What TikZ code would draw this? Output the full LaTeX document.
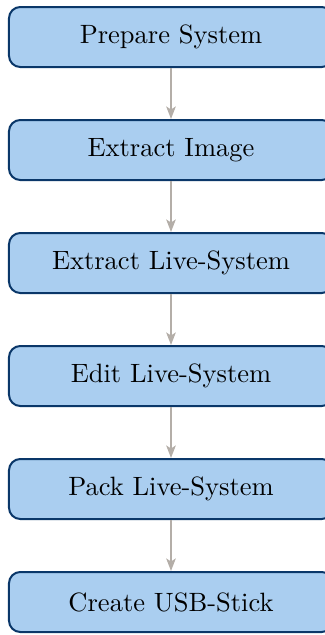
\documentclass[tikz,border=0pt]{standalone}
\usetikzlibrary{arrows.meta}
\definecolor{boxfill}{RGB}{170,206,240}
\definecolor{boxline}{RGB}{10,55,105}
\definecolor{flowgray}{RGB}{180,174,168}
\begin{document}
\begin{tikzpicture}[x=0.4pt,y=-0.4pt,
  stepbox/.style={draw=boxline,fill=boxfill,line width=0.8pt,rounded corners=4.5pt,
    minimum width=129.6pt,minimum height=24pt,inner sep=0pt,
    font=\fontsize{10.6}{12.7}\selectfont},
  flow/.style={draw=flowgray,line width=0.75pt,-{Stealth[length=5pt,width=3.8pt,inset=1.2pt]}}]
\useasboundingbox (0,0) rectangle (325,635);
\node[stepbox] (s1) at (171,37) {Prepare System};
\node[stepbox] (s2) at (171,150) {Extract Image};
\node[stepbox] (s3) at (171,263) {Extract Live-System};
\node[stepbox] (s4) at (171,376) {Edit Live-System};
\node[stepbox] (s5) at (171,489) {Pack Live-System};
\node[stepbox] (s6) at (171,602) {Create USB-Stick};
\foreach \a/\b in {s1/s2,s2/s3,s3/s4,s4/s5,s5/s6}
  \draw[flow] (\a) -- (\b);
\end{tikzpicture}
\end{document}
